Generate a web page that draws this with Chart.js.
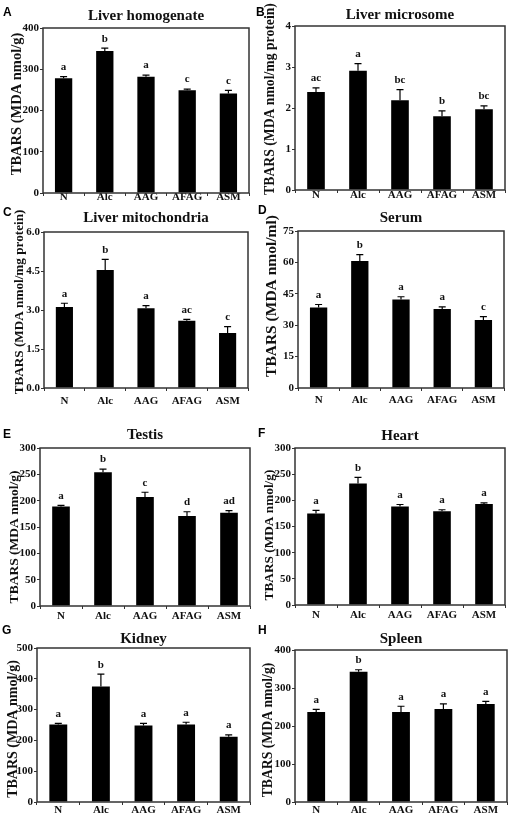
<!DOCTYPE html>
<html>
<head>
<meta charset="utf-8">
<script src="https://cdn.jsdelivr.net/npm/chart.js@4.4.0/dist/chart.umd.min.js"></script>
<style>
  html, body { margin: 0; padding: 0; background: #fff; }
  body { width: 511px; height: 814px; position: relative; overflow: hidden; }
  canvas { position: absolute; display: block; }
</style>
</head>
<body>
<canvas id="chartA"></canvas>
<canvas id="chartB"></canvas>
<canvas id="chartC"></canvas>
<canvas id="chartD"></canvas>
<canvas id="chartE"></canvas>
<canvas id="chartF"></canvas>
<canvas id="chartG"></canvas>
<canvas id="chartH"></canvas>
<script>
const groups = ["N", "Alc", "AAG", "AFAG", "ASM"];

// A - liver homogenate
const liverHomogenate = [278, 344, 282, 249, 241];
const liverHomogenateErr = [4, 7, 4, 3, 8];
const liverHomogenateSig = ["a", "b", "a", "c", "c"];
const liverHomogenateTicks = [0, 100, 200, 300, 400];

// B - liver microsome
const liverMicrosome = [2.39, 2.91, 2.19, 1.80, 1.97];
const liverMicrosomeErr = [0.1, 0.17, 0.26, 0.13, 0.08];
const liverMicrosomeSig = ["ac", "a", "bc", "b", "bc"];
const liverMicrosomeTicks = [0, 1, 2, 3, 4];

// C - liver mitochondria
const liverMito = [3.12, 4.54, 3.07, 2.59, 2.12];
const liverMitoErr = [0.14, 0.41, 0.1, 0.05, 0.24];
const liverMitoSig = ["a", "b", "a", "ac", "c"];
const liverMitoTicks = [0, 1.5, 3.0, 4.5, 6.0];

// D - serum
const serum = [38.5, 60.7, 42.3, 37.7, 32.5];
const serumErr = [1.4, 3.0, 1.3, 1.1, 1.6];
const serumSig = ["a", "b", "a", "a", "c"];
const serumTicks = [0, 15, 30, 45, 60, 75];

// E - testis
const testis = [189, 254, 207, 171, 177];
const testisErr = [2, 6, 9, 8, 4];
const testisSig = ["a", "b", "c", "d", "ad"];
const testisTicks = [0, 50, 100, 150, 200, 250, 300];

// F - heart
const heart = [175, 232, 188, 179, 193];
const heartErr = [6, 12, 4, 3, 2];
const heartSig = ["a", "b", "a", "a", "a"];
const heartTicks = [0, 50, 100, 150, 200, 250, 300];

// G - kidney
const kidney = [252, 375, 248, 252, 212];
const kidneyErr = [3, 40, 7, 7, 6];
const kidneySig = ["a", "b", "a", "a", "a"];
const kidneyTicks = [0, 100, 200, 300, 400, 500];

// H - spleen
const spleen = [237, 343, 237, 245, 258];
const spleenErr = [7, 5, 15, 13, 7];
const spleenSig = ["a", "b", "a", "a", "a"];
const spleenTicks = [0, 100, 200, 300, 400];

const serif = "'Liberation Serif', 'Times New Roman', serif";

// cell = canvas left/top/width, area = plot box l,t,r,b (page px)
const panels = [
  { id: "A", title: "Liver homogenate", yTitle: "TBARS (MDA nmol/g)", values: liverHomogenate, errors: liverHomogenateErr, sig: liverHomogenateSig, ticks: liverHomogenateTicks, dec: 0,
    cell: [0, 0, 255], area: [43, 28, 249, 193], letter: [3, 13], yt: [17, 104, 14.5], titleY: 16, xPad: -5 },
  { id: "B", title: "Liver microsome", yTitle: "TBARS (MDA nmol/mg protein)", values: liverMicrosome, errors: liverMicrosomeErr, sig: liverMicrosomeSig, ticks: liverMicrosomeTicks, dec: 0,
    cell: [255, 0, 256], area: [295, 26, 505, 190], letter: [256, 13], yt: [270, 99, 13.7], titleY: 15, xPad: -4 },
  { id: "C", title: "Liver mitochondria", yTitle: "TBARS (MDA nmol/mg protein)", values: liverMito, errors: liverMitoErr, sig: liverMitoSig, ticks: liverMitoTicks, dec: 1,
    cell: [0, 205, 255], area: [44, 232, 248, 388], letter: [3, 213], yt: [20, 302, 13.2], titleY: 218, xPad: 4 },
  { id: "D", title: "Serum", yTitle: "TBARS (MDA nmol/ml)", values: serum, errors: serumErr, sig: serumSig, ticks: serumTicks, dec: 0,
    cell: [255, 205, 256], area: [298, 231, 504, 388], letter: [258, 211], yt: [272, 296, 15.5], titleY: 218, xPad: 3 },
  { id: "E", title: "Testis", yTitle: "TBARS (MDA nmol/g)", values: testis, errors: testisErr, sig: testisSig, ticks: testisTicks, dec: 0,
    cell: [0, 420, 255], area: [40, 448, 250, 606], letter: [3, 435], yt: [15, 537, 13.5], titleY: 435, xPad: 1 },
  { id: "F", title: "Heart", yTitle: "TBARS (MDA nmol/g)", values: heart, errors: heartErr, sig: heartSig, ticks: heartTicks, dec: 0,
    cell: [255, 420, 256], area: [295, 448, 505, 605], letter: [258, 434], yt: [270, 535, 13.3], titleY: 436, xPad: 1 },
  { id: "G", title: "Kidney", yTitle: "TBARS (MDA nmol/g)", values: kidney, errors: kidneyErr, sig: kidneySig, ticks: kidneyTicks, dec: 0,
    cell: [0, 622, 255], area: [37, 648, 250, 802], letter: [2, 631], yt: [13, 729, 14], titleY: 639, xPad: -1 },
  { id: "H", title: "Spleen", yTitle: "TBARS (MDA nmol/g)", values: spleen, errors: spleenErr, sig: spleenSig, ticks: spleenTicks, dec: 0,
    cell: [255, 622, 256], area: [295, 650, 507, 802], letter: [258, 631], yt: [268, 730, 13.7], titleY: 639, xPad: -1 },
];

const Y_W = 30;
const X_H = 22;

function decor(p) {
  return {
    id: "decor" + p.id,
    afterDatasetsDraw(chart) {
      const ctx = chart.ctx;
      const { left, top, right, bottom } = chart.chartArea;
      const y = chart.scales.y;
      const meta = chart.getDatasetMeta(0);
      const dx = p.cell[0], dy = p.cell[1];
      ctx.save();

      // frame
      ctx.strokeStyle = "#333";
      ctx.lineWidth = 1.5;
      ctx.strokeRect(left, top, right - left, bottom - top);

      // error bars + significance letters
      ctx.strokeStyle = "#000";
      ctx.lineWidth = 1.2;
      ctx.fillStyle = "#111";
      ctx.font = "bold 11px " + serif;
      ctx.textAlign = "center";
      ctx.textBaseline = "bottom";
      meta.data.forEach((bar, i) => {
        const ye = y.getPixelForValue(p.values[i] + p.errors[i]);
        ctx.beginPath();
        ctx.moveTo(bar.x, bar.y);
        ctx.lineTo(bar.x, ye);
        ctx.moveTo(bar.x - 3.5, ye);
        ctx.lineTo(bar.x + 3.5, ye);
        ctx.stroke();
        ctx.fillText(p.sig[i], bar.x, ye - 4);
      });

      // title
      ctx.font = "bold 15px " + serif;
      ctx.textBaseline = "middle";
      ctx.fillText(p.title, (left + right) / 2, p.titleY - dy);

      // y title
      ctx.save();
      ctx.translate(p.yt[0] - dx, p.yt[1] - dy);
      ctx.rotate(-Math.PI / 2);
      ctx.font = "bold " + p.yt[2] + "px " + serif;
      ctx.fillText(p.yTitle, 0, 0);
      ctx.restore();

      // panel letter
      ctx.font = "bold 12px 'Liberation Sans', Arial, sans-serif";
      ctx.textAlign = "left";
      ctx.fillStyle = "#000";
      ctx.fillText(p.id, p.letter[0] - dx, p.letter[1] - dy);
      ctx.restore();
    }
  };
}

panels.forEach((p) => {
  const canvas = document.getElementById("chart" + p.id);
  const [cx, cy, cw] = p.cell;
  const [l, t, r, b] = p.area;
  const ch = b + X_H - cy;
  canvas.width = cw;
  canvas.height = ch;
  canvas.style.left = cx + "px";
  canvas.style.top = cy + "px";

  new Chart(canvas.getContext("2d"), {
    type: "bar",
    data: {
      labels: groups,
      datasets: [
        {
          data: p.values,
          backgroundColor: "#000",
          barPercentage: 0.42,
          categoryPercentage: 1.0,
        },
      ],
    },
    options: {
      responsive: false,
      animation: false,
      layout: {
        padding: { left: l - cx - Y_W, top: t - cy, right: cx + cw - r, bottom: 0 },
      },
      plugins: {
        legend: { display: false },
        tooltip: { enabled: false },
        title: { display: false },
      },
      scales: {
        x: {
          border: { display: false },
          grid: { drawOnChartArea: false, drawTicks: true, tickLength: 3, offset: true, color: "#333" },
          ticks: { color: "#111", padding: p.xPad, font: { family: serif, size: 11, weight: "bold" } },
          afterFit: (s) => { s.height = X_H; },
        },
        y: {
          min: p.ticks[0],
          max: p.ticks[p.ticks.length - 1],
          border: { display: false },
          grid: { drawOnChartArea: false, drawTicks: true, tickLength: 3, color: "#333" },
          ticks: {
            color: "#111",
            padding: 1,
            font: { family: serif, size: 11, weight: "bold" },
            callback: (v) => Number(v).toFixed(p.dec),
          },
          afterBuildTicks: (s) => { s.ticks = p.ticks.map((v) => ({ value: v })); },
          afterFit: (s) => { s.width = Y_W; },
        },
      },
    },
    plugins: [decor(p)],
  });
});
</script>
</body>
</html>
